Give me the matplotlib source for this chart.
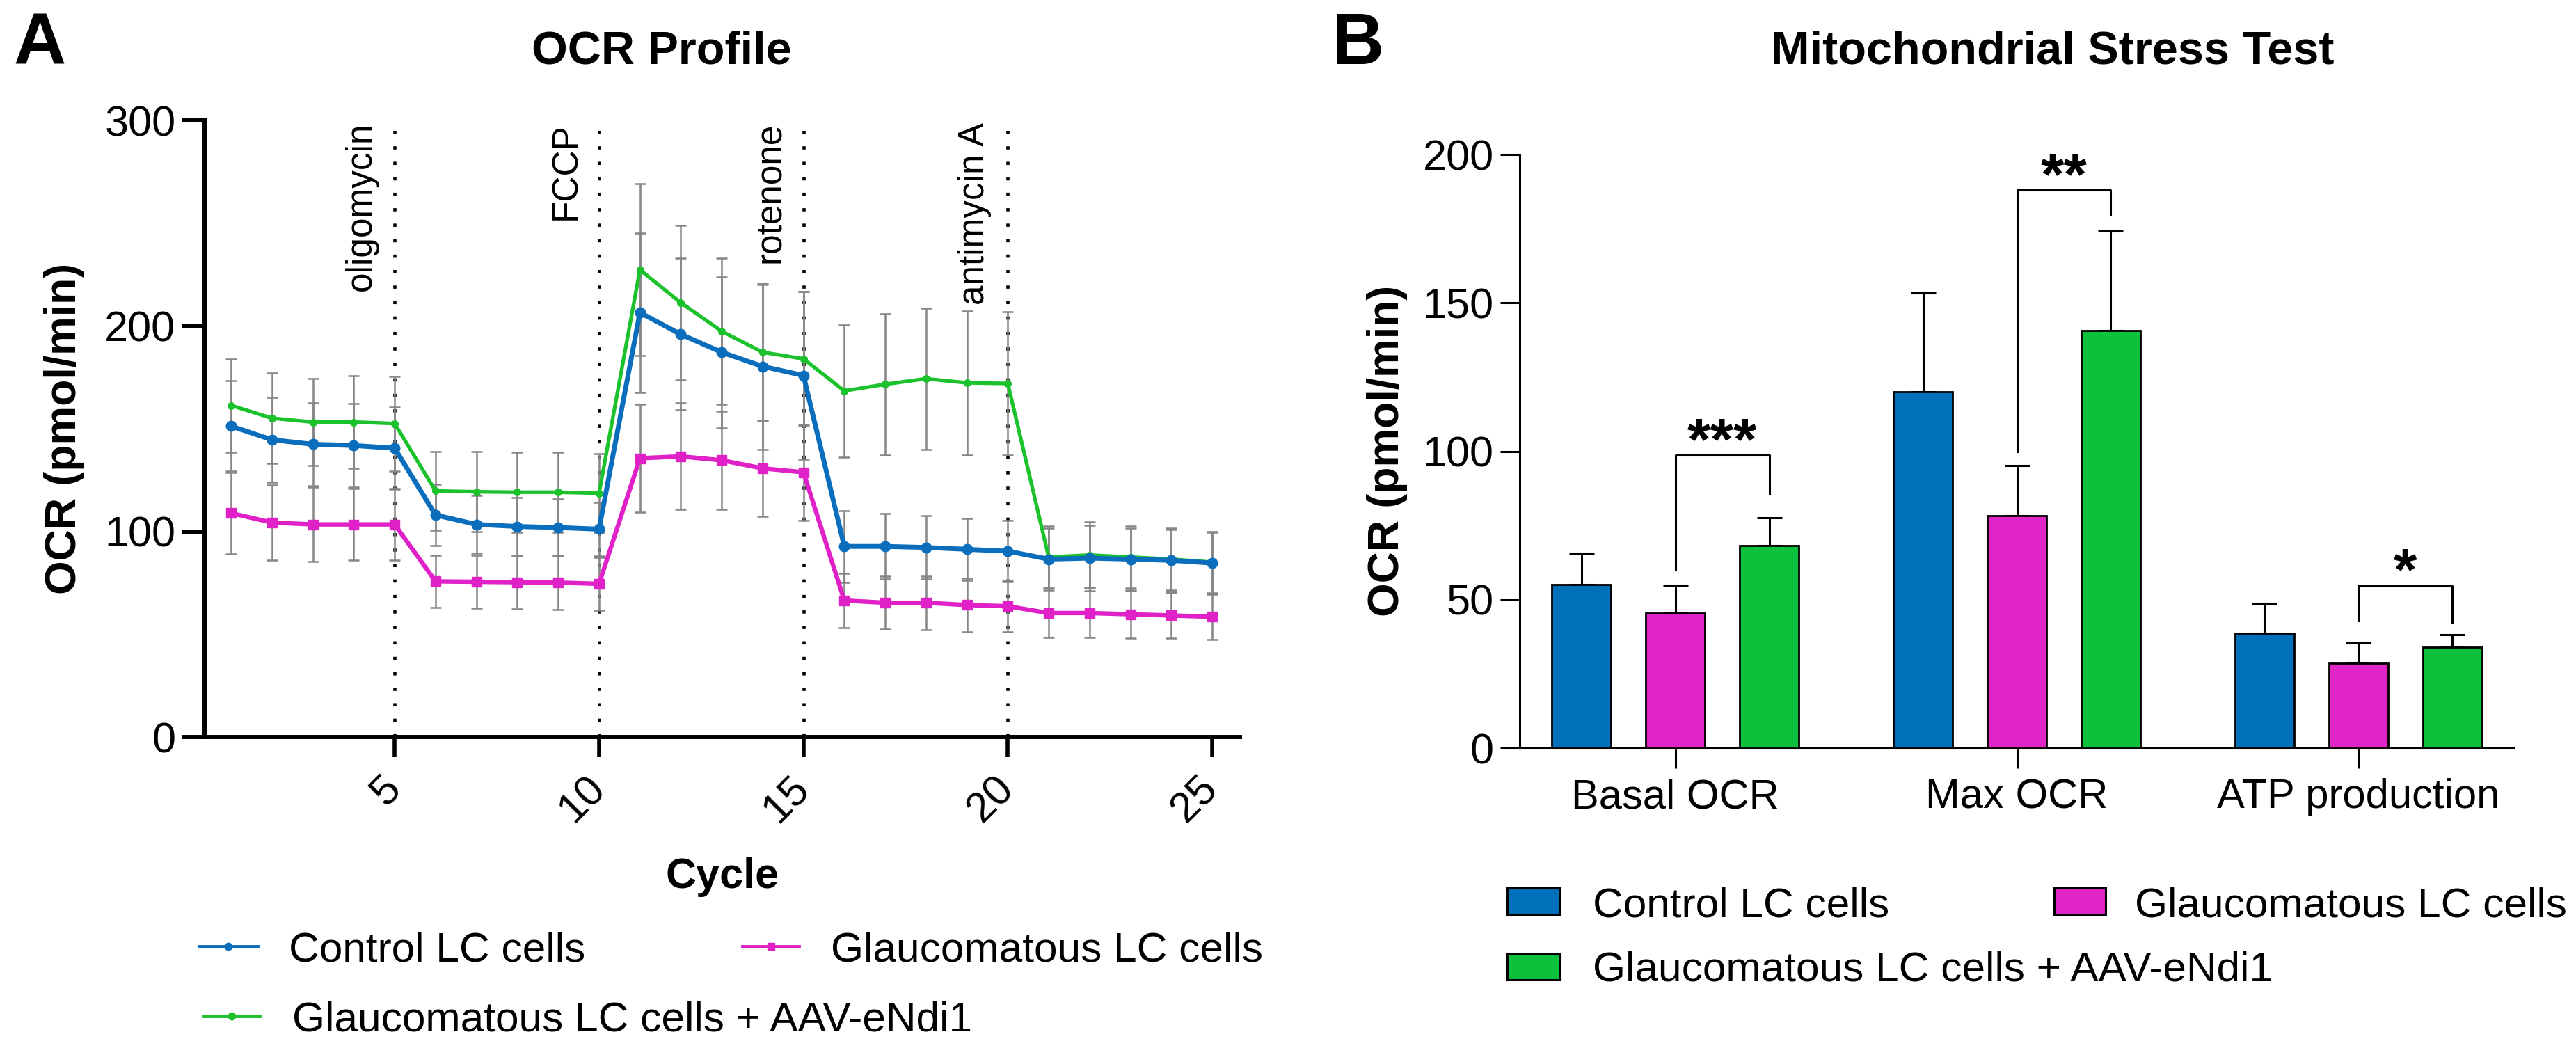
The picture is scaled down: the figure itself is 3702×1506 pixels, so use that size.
import numpy as np
import matplotlib
matplotlib.use("Agg")
import matplotlib.pyplot as plt
from matplotlib.lines import Line2D
from matplotlib.patches import Rectangle

plt.rcParams['font.family'] = ['Liberation Sans', 'DejaVu Sans']

# ---- data: panel A (OCR profile, mean and SD per cycle) ----
cycles = np.arange(1, 26)
ctrl = [151.2, 144.6, 142.4, 141.8, 140.5, 108.0, 103.4, 102.4, 101.9, 101.1,
        206.5, 195.9, 187.2, 180.3, 175.9, 92.7, 92.7, 92.2, 91.3, 90.4,
        86.5, 87.0, 86.5, 85.9, 84.6]
ctrl_sd = [22.0, 20.8, 20.2, 20.4, 20.0, 15.0, 14.0, 14.0, 14.0, 13.0,
           38.8, 36.9, 36.7, 40.3, 40.7, 17.5, 16.0, 15.5, 15.0, 15.0,
           15.0, 16.0, 15.0, 15.0, 15.0]
glauc = [108.9, 104.3, 103.4, 103.4, 103.4, 75.7, 75.5, 75.3, 75.1, 74.5,
         135.6, 136.5, 134.6, 130.7, 128.8, 66.4, 65.3, 65.3, 64.2, 63.6,
         60.3, 60.3, 59.7, 59.1, 58.5]
glauc_sd = [19.7, 18.4, 18.2, 17.5, 17.5, 12.6, 13.0, 13.0, 13.0, 13.0,
            26.3, 25.9, 24.0, 23.4, 23.4, 13.3, 12.9, 13.0, 13.0, 12.5,
            12.0, 12.0, 11.5, 11.0, 11.0]
aav = [161.3, 155.1, 153.2, 153.2, 152.5, 119.7, 119.3, 119.1, 119.1, 118.6,
       227.3, 211.3, 197.4, 187.2, 184.0, 168.4, 171.6, 174.3, 172.3, 172.0,
       87.5, 88.5, 87.5, 86.5, 85.0]
aav_sd = [22.7, 22.0, 21.3, 22.6, 23.0, 19.2, 19.5, 19.5, 19.5, 19.2,
          41.8, 37.7, 35.5, 33.0, 32.6, 32.2, 34.4, 34.4, 35.0, 35.0,
          15.0, 16.0, 15.0, 15.0, 15.0]
inject_at = [5, 10, 15, 20]
inject_names = ['oligomycin', 'FCCP', 'rotenone', 'antimycin A']

# ---- data: panel B (mitochondrial stress test) ----
categories = ['Basal OCR', 'Max OCR', 'ATP production']
ctrl_bar = [55.2, 120.0, 38.7]
ctrl_bar_err = [10.5, 33.4, 10.1]
glauc_bar = [45.5, 78.3, 28.6]
glauc_bar_err = [9.4, 17.0, 6.9]
aav_bar = [68.2, 140.6, 34.1]
aav_bar_err = [9.4, 33.6, 4.2]
# significance: bracket top, left leg end, right leg end, label
sig_top = [98.6, 188.0, 54.6]
sig_left = [60.0, 99.8, 42.8]
sig_right = [85.5, 179.6, 42.3]
sig_label = ['***', '**', '*']

labels = ['Control LC cells', 'Glaucomatous LC cells',
          'Glaucomatous LC cells + AAV-eNdi1']
c_blue = '#0A6EBD'
c_mag = '#E021C8'
c_green = '#1BC22C'
b_blue = '#0070BA'
b_mag = '#E024C6'
b_green = '#0CC23C'

W, H = 3702, 1506


def fx(px):
    return px / W


def fy(py):
    return 1 - py / H


fig = plt.figure(figsize=(W / 100, H / 100), dpi=100)

# ================= panel A =================
axA = fig.add_axes([fx(294), fy(1059), (1782 - 294) / W, (1059 - 173) / H])

for vals, sd in [(aav, aav_sd), (glauc, glauc_sd), (ctrl, ctrl_sd)]:
    axA.errorbar(cycles, vals, yerr=sd, fmt='none', ecolor='#858585',
                 elinewidth=1.8, capsize=5.5, capthick=1.8, zorder=2)

axA.plot(cycles, aav, color=c_green, lw=3.8, marker='o', ms=7, zorder=3)
axA.plot(cycles, glauc, color=c_mag, lw=4.6, marker='s', ms=10, zorder=3)
axA.plot(cycles, ctrl, color=c_blue, lw=5.0, marker='o', ms=10.5, zorder=4)

for x, name in zip(inject_at, inject_names):
    axA.axvline(x, color='black', lw=3.3, ls=(0, (1, 3.85)), zorder=1)
    axA.text(x - 0.39, 299, name, rotation=90, ha='right', va='top',
             fontsize=37)

axA.set_xlim(0.35, 25.68)
axA.set_ylim(0, 300)
axA.set_yticks([0, 100, 200, 300])
axA.set_xticks([5, 10, 15, 20, 25])
for s in ['top', 'right']:
    axA.spines[s].set_visible(False)
for s in ['left', 'bottom']:
    axA.spines[s].set_linewidth(4.3)
axA.tick_params(axis='y', length=24, width=4.3, labelsize=44, pad=6)
axA.tick_params(axis='x', length=21, width=4.0, labelsize=44, pad=26)
for lab in axA.get_xticklabels():
    lab.set_rotation(45)
    lab.set_rotation_mode('anchor')
    lab.set_ha('right')
    lab.set_va('center')

fig.text(fx(19), fy(92), 'A', fontsize=75, fontweight='bold', va='baseline')
fig.text(fx(951), fy(92), 'OCR Profile', fontsize=48, fontweight='bold',
         ha='center', va='baseline')
fig.text(fx(92), fy(616), 'OCR (pmol/min)', fontsize=45, fontweight='bold',
         rotation=90, ha='center', va='center')
fig.text(fx(1038), fy(1276), 'Cycle', fontsize=44, fontweight='bold',
         ha='center', va='baseline')

# legend A (drawn by hand to match the free layout)
legA = [(286, 370, 1360, 415, 1381, c_blue, 'o', labels[0]),
        (1067, 1148, 1360, 1194, 1381, c_mag, 's', labels[1]),
        (293, 373, 1460, 420, 1481, c_green, 'o', labels[2])]
for x0, x1, yc, tx, tb, col, mk, txt in legA:
    fig.add_artist(Line2D([fx(x0), fx((x0 + x1) / 2), fx(x1)], [fy(yc)] * 3,
                          transform=fig.transFigure, color=col, lw=3.5,
                          marker=mk, ms=7.5, markevery=[1]))
    fig.text(fx(tx), fy(tb), txt, fontsize=43.5, va='baseline')

# ================= panel B =================
axB = fig.add_axes([fx(2184), fy(1075), (3613 - 2184) / W, (1075 - 222) / H])
xg = np.arange(len(categories))
off = 0.275
wd = 0.173
series = [(ctrl_bar, ctrl_bar_err, b_blue, -off),
          (glauc_bar, glauc_bar_err, b_mag, 0.0),
          (aav_bar, aav_bar_err, b_green, off)]
for vals, err, col, dx in series:
    axB.errorbar(xg + dx, vals, yerr=[np.zeros(len(err)), err], fmt='none',
                 ecolor='black', elinewidth=2.2, capsize=13, capthick=2.2,
                 zorder=2)
    axB.bar(xg + dx, vals, width=wd, color=col, edgecolor='black',
            linewidth=2.0, zorder=3)

for i in range(len(categories)):
    xl, xr = xg[i], xg[i] + off
    axB.plot([xl, xl, xr, xr], [sig_left[i], sig_top[i], sig_top[i], sig_right[i]],
             color='black', lw=2.2, zorder=4)
    axB.annotate(sig_label[i], xy=((xl + xr) / 2, sig_top[i]),
                 xytext=(0, -4), textcoords='offset points', ha='center',
                 va='baseline', fontsize=62, fontweight='bold')

axB.set_xlim(-0.456, 2.456)
axB.set_ylim(0, 200)
axB.set_yticks([0, 50, 100, 150, 200])
axB.set_xticks(xg)
axB.set_xticklabels(categories)
for s in ['top', 'right']:
    axB.spines[s].set_visible(False)
for s in ['left', 'bottom']:
    axB.spines[s].set_linewidth(2.2)
axB.tick_params(axis='y', length=20, width=2.2, labelsize=44, pad=7)
axB.tick_params(axis='x', length=21, width=2.2, labelsize=43, pad=10)

fig.text(fx(1914), fy(92), 'B', fontsize=75, fontweight='bold', va='baseline')
fig.text(fx(2950), fy(92), 'Mitochondrial Stress Test', fontsize=48,
         fontweight='bold', ha='center', va='baseline')
fig.text(fx(1993), fy(648), 'OCR (pmol/min)', fontsize=45, fontweight='bold',
         rotation=90, ha='center', va='center')

legB = [(2166, 2242, 1276, 1314, 2289, 1318, b_blue, labels[0]),
        (2952, 3026, 1276, 1314, 3068, 1318, b_mag, labels[1]),
        (2166, 2242, 1371, 1408, 2289, 1410, b_green, labels[2])]
for x0, x1, y0, y1, tx, tb, col, txt in legB:
    fig.add_artist(Rectangle((fx(x0), fy(y1)), (x1 - x0) / W, (y1 - y0) / H,
                             transform=fig.transFigure, facecolor=col,
                             edgecolor='black', lw=2.2))
    fig.text(fx(tx), fy(tb), txt, fontsize=43.5, va='baseline')

fig.savefig('out.png', dpi=100)
